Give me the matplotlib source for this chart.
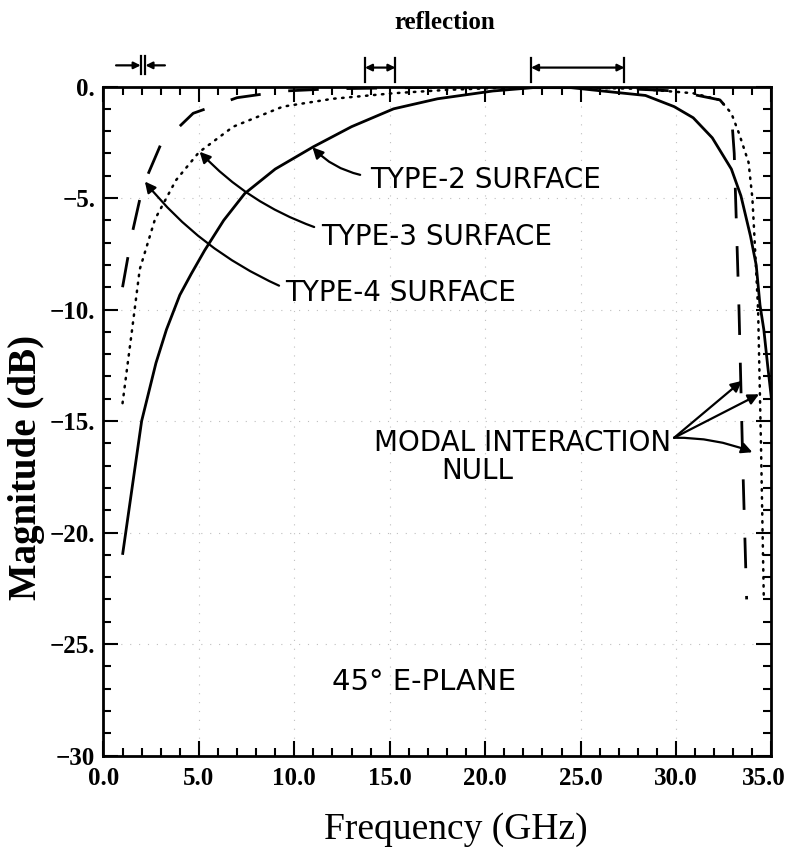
import numpy as np
import matplotlib
matplotlib.use("Agg")
import matplotlib.pyplot as plt
import matplotlib.transforms as mtransforms
from matplotlib.ticker import FixedLocator, FixedFormatter, MultipleLocator

# ---- data ----
f_type2 = [1.0, 1.5, 2.0, 2.75, 3.3, 4.0, 4.6, 5.3, 6.3, 7.4, 9.0, 11.0, 13.0, 15.2, 17.5, 20.4, 22.5, 24.5,
           26.7, 28.4, 29.9, 30.9, 31.9, 32.9, 33.4, 33.9, 34.2, 34.4, 34.6, 34.8, 35.0]
m_type2 = [-21.0, -18.0, -15.0, -12.4, -10.9, -9.35, -8.4, -7.35, -6.0, -4.8, -3.7, -2.7, -1.8, -1.0, -0.55, -0.2,
           -0.05, -0.05, -0.25, -0.4, -0.9, -1.4, -2.3, -3.7, -4.9, -6.7, -8.0, -9.8, -10.9, -12.5, -14.0]

f_type3 = [1.0, 1.5, 1.9, 2.7, 3.8, 5.0, 6.8, 9.4, 12.0, 15.2, 18.0, 21.0, 25.0, 28.0,
           30.9, 32.3, 32.9, 33.3, 33.8, 34.0, 34.1, 34.3, 34.45, 34.6]
m_type3 = [-14.2, -10.9, -8.2, -5.95, -4.2, -2.95, -1.8, -0.9, -0.55, -0.3, -0.15, -0.05, -0.05, -0.1,
           -0.3, -0.6, -1.2, -2.1, -3.4, -5.0, -6.6, -10.0, -16.0, -23.0]

f_type4 = [1.0, 1.5, 2.05, 3.0, 4.7, 7.0, 9.5, 12.0, 16.0, 20.0, 25.0, 30.0, 32.3, 32.9,
           33.05, 33.3, 33.5, 33.7]
m_type4 = [-9.0, -6.6, -4.5, -2.6, -1.2, -0.5, -0.2, -0.1, -0.05, 0.0, 0.0, -0.2, -0.6, -1.2,
           -3.0, -10.0, -17.0, -23.0]

x_ticks = [0, 5, 10, 15, 20, 25, 30, 35]
x_tick_labels = ["0.0", "5.0", "10.0", "15.0", "20.0", "25.0", "30.0", "35.0"]
y_ticks = [0, -5, -10, -15, -20, -25, -30]
y_tick_labels = ["0.", "\u22125.", "\u221210.", "\u221215.", "\u221220.", "\u221225.", "\u221230"]

# reflection bands marked above the plot
band_left = [1.95, 2.2]
band_mid = [13.7, 15.3]
band_right = [22.4, 27.3]

# ---- figure ----
fig = plt.figure(figsize=(7.88, 8.56), dpi=100)
ax = fig.add_axes([0.1313, 0.1174, 0.8477, 0.7815])

ax.plot(f_type2, m_type2, color="black", lw=2.0, solid_capstyle="butt")
ax.plot(f_type3, m_type3, color="black", lw=1.8, linestyle=(0, (0.6, 2.6)), dash_capstyle="round")
ax.plot(f_type4, m_type4, color="black", lw=2.0, linestyle=(0, (11, 10)))

ax.set_xlim(0, 35)
ax.set_ylim(-30, 0)

serif = "Liberation Serif"
ax.xaxis.set_major_locator(FixedLocator(x_ticks))
ax.xaxis.set_major_formatter(FixedFormatter(x_tick_labels))
ax.yaxis.set_major_locator(FixedLocator(y_ticks))
ax.yaxis.set_major_formatter(FixedFormatter(y_tick_labels))
ax.xaxis.set_minor_locator(MultipleLocator(1))
ax.yaxis.set_minor_locator(MultipleLocator(1))
ax.tick_params(which="both", direction="in", top=True, right=True, width=1.5, color="black")
ax.tick_params(which="major", length=11)
ax.tick_params(which="minor", length=6)
ax.tick_params(axis="x", which="major", pad=8)
ax.tick_params(axis="y", which="major", pad=6)
for lab in ax.get_xticklabels() + ax.get_yticklabels():
    lab.set_fontfamily(serif)
    lab.set_fontweight("bold")
    lab.set_fontsize(18)
# keep the last x tick label inside the figure
last = ax.get_xticklabels()[-1]
last.set_transform(last.get_transform() + mtransforms.ScaledTranslation(-8 / 100, 0, fig.dpi_scale_trans))
for s in ax.spines.values():
    s.set_linewidth(2.0)

ax.grid(True, which="major", linestyle=(0, (1, 7)), color="0.75", lw=0.8)

ax.set_xlabel("Frequency (GHz)", fontfamily=serif, fontsize=27)
ax.xaxis.set_label_coords(0.528, -0.085)
ax.set_ylabel("Magnitude (dB)", fontfamily=serif, fontsize=28, fontweight="bold")
ax.yaxis.set_label_coords(-0.088, 0.43)
fig.text(0.565, 0.974, "reflection", ha="center", va="center", fontfamily=serif,
         fontsize=18, fontweight="bold")

# ---- annotations ----
sans = "DejaVu Sans"
afs = 20
arrow_kw = dict(arrowstyle="-|>", color="black", lw=1.6, mutation_scale=16, shrinkA=0, shrinkB=0)

ax.text(13.97, -4.18, "TYPE-2 SURFACE", fontfamily=sans, fontsize=afs, va="center", ha="left")
ax.annotate("", xy=(10.95, float(np.interp(10.95, f_type2, m_type2))), xytext=(13.45, -3.96),
            arrowprops=dict(connectionstyle="arc3,rad=-0.15", **arrow_kw))

ax.text(11.4, -6.76, "TYPE-3 SURFACE", fontfamily=sans, fontsize=afs, va="center", ha="left")
ax.annotate("", xy=(5.04, float(np.interp(5.04, f_type3, m_type3))), xytext=(11.04, -6.3),
            arrowprops=dict(connectionstyle="arc3,rad=-0.12", **arrow_kw))

ax.text(9.53, -9.24, "TYPE-4 SURFACE", fontfamily=sans, fontsize=afs, va="center", ha="left")
ax.annotate("", xy=(2.17, float(np.interp(2.17, f_type4, m_type4))), xytext=(9.2, -8.93),
            arrowprops=dict(connectionstyle="arc3,rad=-0.12", **arrow_kw))

ax.text(14.2, -15.97, "MODAL INTERACTION", fontfamily=sans, fontsize=afs, va="center", ha="left")
ax.text(17.7, -17.25, "NULL", fontfamily=sans, fontsize=afs, va="center", ha="left")
for tip, rad in [((33.45, -13.2), 0.0), ((34.35, -13.8), 0.0), ((34.0, -16.4), -0.1)]:
    ax.annotate("", xy=tip, xytext=(29.9, -15.75),
                arrowprops=dict(connectionstyle=f"arc3,rad={rad}", **arrow_kw))

ax.text(11.97, -26.7, "45\u00b0 E-PLANE", fontfamily=sans, fontsize=21, va="center", ha="left")

# ---- reflection band brackets above the axes ----
bkw = dict(color="black", lw=1.6, clip_on=False)
for xb in band_left:
    ax.plot([xb, xb], [0.55, 1.35], **bkw)
ax.annotate("", xy=(band_left[0], 0.95), xytext=(0.66, 0.95), annotation_clip=False,
            arrowprops=dict(arrowstyle="-|>", color="black", lw=1.6, mutation_scale=10, shrinkA=0, shrinkB=0))
ax.annotate("", xy=(band_left[1], 0.95), xytext=(3.22, 0.95), annotation_clip=False,
            arrowprops=dict(arrowstyle="-|>", color="black", lw=1.6, mutation_scale=10, shrinkA=0, shrinkB=0))
for band in (band_mid, band_right):
    for xb in band:
        ax.plot([xb, xb], [0.2, 1.3], **bkw)
    ax.annotate("", xy=(band[1], 0.85), xytext=(band[0], 0.85), annotation_clip=False,
                arrowprops=dict(arrowstyle="<|-|>", color="black", lw=1.6, mutation_scale=10,
                                shrinkA=0, shrinkB=0))

fig.savefig("out.png", dpi=100)
